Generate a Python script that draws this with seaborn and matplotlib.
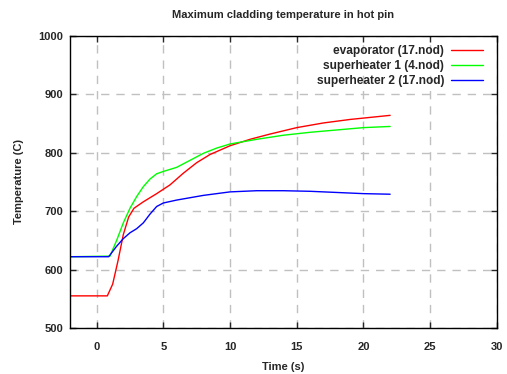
import matplotlib
matplotlib.use("Agg")
import matplotlib.pyplot as plt
import seaborn as sns
import pandas as pd

# values
evap_t = [-2, 0.8, 1.2, 1.6, 2.0, 2.4, 2.8, 3.5, 4.5, 5.5, 6.5, 7.5, 8.5, 10, 11.5, 13, 15, 17, 19, 22]
evap_T = [555, 555, 575, 615, 660, 690, 705, 716, 730, 745, 765, 783, 797, 812, 823, 832, 843, 851, 857, 864]

sh1_t = [-2, 1.0, 1.5, 2.0, 2.5, 3.0, 3.5, 4.0, 4.5, 5.0, 6.0, 7.0, 8.0, 9.0, 10, 12, 14, 16, 18, 20, 22]
sh1_T = [622, 623, 650, 680, 705, 725, 742, 755, 764, 768, 775, 787, 799, 808, 815, 823, 830, 835, 839, 843, 845]

sh2_t = [-2, 0.9, 1.5, 2.0, 2.5, 3.0, 3.5, 4.0, 4.5, 5.0, 6.0, 7.0, 8.0, 10, 12, 14, 16, 18, 20, 22]
sh2_T = [622, 622, 640, 653, 663, 670, 680, 695, 708, 714, 719, 723, 727, 733, 735, 735, 734, 732, 730, 729]

labels = ["evaporator (17.nod)", "superheater 1 (4.nod)", "superheater 2 (17.nod)"]
colors = ["#ff0000", "#00ff00", "#0000ff"]

sns.set_style("ticks")
plt.rcParams["font.family"] = ["Liberation Sans", "DejaVu Sans"]
plt.rcParams["font.weight"] = "bold"

fig = plt.figure(figsize=(5.07, 3.74), dpi=100)
ax = fig.add_axes([0.138, 0.123, 0.842, 0.781])

series = [(evap_t, evap_T), (sh1_t, sh1_T), (sh2_t, sh2_T)]
for (t, T), lab, col in zip(series, labels, colors):
    df = pd.DataFrame({"t": t, "T": T})
    sns.lineplot(data=df, x="t", y="T", ax=ax, color=col, linewidth=1.0,
                 label=lab, sort=False)

ax.set_xlim(-2, 30)
ax.set_ylim(500, 1000)
ax.set_xticks([0, 5, 10, 15, 20, 25, 30])
ax.set_yticks([500, 600, 700, 800, 900, 1000])
ax.grid(True, color="#c0c0c0", linestyle=(0, (6, 5)), linewidth=1.0)
for s in ax.spines.values():
    s.set_visible(True)
    s.set_color("black")
    s.set_linewidth(1.0)
ax.tick_params(direction="in", top=True, right=True, length=4, width=1,
               labelsize=8)
ax.tick_params(axis="x", pad=10)
ax.tick_params(axis="y", pad=5)
for lbl in ax.get_xticklabels() + ax.get_yticklabels():
    lbl.set_fontweight("bold")

ax.set_xlabel("Time (s)", fontsize=8, fontweight="bold", labelpad=7)
ax.set_ylabel("Temperature (C)", fontsize=8, fontweight="bold", labelpad=10)
ax.set_title("Maximum cladding temperature in hot pin", fontsize=8,
             fontweight="bold", pad=13)

leg = ax.legend(loc="upper right", bbox_to_anchor=(1.0, 1.018), frameon=False,
                markerfirst=False, prop={"size": 8.6, "weight": "bold"},
                handlelength=2.6, labelspacing=0.25, borderaxespad=0.8,
                handletextpad=0.6)

fig.savefig("out.png", dpi=100)
